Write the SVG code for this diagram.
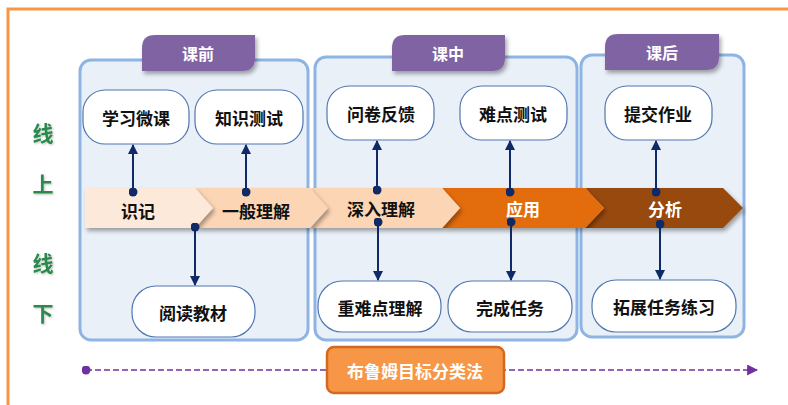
<svg xmlns="http://www.w3.org/2000/svg" width="788" height="405" viewBox="0 0 788 405">
<defs>
<style>
.panel{fill:#EAF0F8;stroke:#8DB4E2;stroke-width:3}
.tab{fill:#8064A2}
.tabt{fill:#fff;font-family:"Noto Sans CJK SC","Noto Sans",sans-serif;font-size:16px;font-weight:bold;text-anchor:middle;dominant-baseline:central}
.node{fill:#fff;stroke:#4F77B0;stroke-width:1.2}
.nt{fill:#111;font-family:"Noto Sans CJK SC","Noto Sans",sans-serif;font-size:17px;font-weight:bold;text-anchor:middle;dominant-baseline:central}
.side{fill:#2A8A4C;font-family:"Noto Sans CJK SC","Noto Sans",sans-serif;font-size:21px;font-weight:bold;text-anchor:middle;dominant-baseline:central}
.ct{font-family:"Noto Sans CJK SC","Noto Sans",sans-serif;font-size:17px;font-weight:bold;text-anchor:middle;dominant-baseline:central}
.con{stroke:#0F2A66;stroke-width:2;fill:none;marker-start:url(#dot);marker-end:url(#arr)}
</style>
<marker id="arr" viewBox="0 0 10 10" refX="9" refY="5" markerWidth="10" markerHeight="10" markerUnits="userSpaceOnUse" orient="auto"><path d="M0,0 L10,5 L0,10 Z" fill="#0F2A66"/></marker>
<marker id="dot" viewBox="0 0 10 10" refX="5" refY="5" markerWidth="9" markerHeight="9" markerUnits="userSpaceOnUse"><circle cx="5" cy="5" r="5" fill="#0F2A66"/></marker>
<marker id="parr" viewBox="0 0 10 10" refX="9" refY="5" markerWidth="11" markerHeight="11" markerUnits="userSpaceOnUse" orient="auto"><path d="M0,0 L10,5 L0,10 Z" fill="#7030A0"/></marker>
<marker id="pdot" viewBox="0 0 10 10" refX="5" refY="5" markerWidth="9" markerHeight="9" markerUnits="userSpaceOnUse"><circle cx="5" cy="5" r="5" fill="#7030A0"/></marker>
<filter id="sh" x="-10%" y="-30%" width="130%" height="180%"><feDropShadow dx="2" dy="3" stdDeviation="2" flood-color="#000" flood-opacity="0.35"/></filter>
<filter id="ts" x="-20%" y="-20%" width="150%" height="150%"><feDropShadow dx="1" dy="1" stdDeviation="0.8" flood-color="#000" flood-opacity="0.25"/></filter>
</defs>
<rect x="8" y="9" width="800" height="420" fill="#fff" stroke="#F79646" stroke-width="3"/>
<g id="side-labels">
<text class="side" x="43" y="132" filter="url(#ts)">线</text>
<text class="side" x="43" y="183" filter="url(#ts)">上</text>
<text class="side" x="43" y="262" filter="url(#ts)">线</text>
<text class="side" x="43" y="312" filter="url(#ts)">下</text>
</g>
<g id="panel-pre">
<rect class="panel" x="80" y="60" width="228" height="280" rx="11"/>
<path class="tab" filter="url(#sh)" d="M142,71 L142,48 Q142,35 155,35 L255,35 L255,58 Q255,71 242,71 Z"/>
<text class="tabt" x="198" y="53">课前</text>
</g>
<g id="panel-in">
<rect class="panel" x="315" y="57" width="262" height="283" rx="11"/>
<path class="tab" filter="url(#sh)" d="M392,71 L392,48 Q392,35 405,35 L505,35 L505,58 Q505,71 492,71 Z"/>
<text class="tabt" x="448" y="53">课中</text>
</g>
<g id="panel-post">
<rect class="panel" x="581" y="55" width="163" height="282" rx="11"/>
<path class="tab" filter="url(#sh)" d="M605,70 L605,47 Q605,34 618,34 L719,34 L719,57 Q719,70 706,70 Z"/>
<text class="tabt" x="662" y="52">课后</text>
</g>
<g id="band">
<path id="c5" filter="url(#sh)" fill="#984807" d="M585,188 L723,188 L743,208 L723,228 L585,228 L604,208 Z"/>
<path id="c4" filter="url(#sh)" fill="#E36C09" d="M442,188 L585,188 L604,208 L585,228 L442,228 L460,208 Z"/>
<path id="c3" filter="url(#sh)" fill="#FCD5B4" d="M310,188 L442,188 L460,208 L442,228 L310,228 L328,208 Z"/>
<path id="c2" filter="url(#sh)" fill="#FCD5B4" d="M195,188 L310,188 L328,208 L310,228 L195,228 L213,208 Z"/>
<path id="c1" filter="url(#sh)" fill="#FDE9D9" d="M85,188 L195,188 L213,208 L195,228 L85,228 Z"/>
<text class="ct" x="138" y="210" fill="#111">识记</text>
<text class="ct" x="256" y="210" fill="#111">一般理解</text>
<text class="ct" x="381" y="208" fill="#111">深入理解</text>
<text class="ct" x="523" y="208" fill="#fff">应用</text>
<text class="ct" x="665" y="208" fill="#fff">分析</text>
</g>
<g id="n-xuexi"><rect class="node" x="83" y="90" width="106" height="54" rx="22"/><text class="nt" x="136" y="117">学习微课</text></g>
<g id="n-zhishi"><rect class="node" x="195" y="90" width="108" height="54" rx="22"/><text class="nt" x="249" y="117">知识测试</text></g>
<g id="n-wenjuan"><rect class="node" x="327" y="86" width="107" height="54" rx="22"/><text class="nt" x="381" y="113">问卷反馈</text></g>
<g id="n-nandian"><rect class="node" x="460" y="86" width="107" height="54" rx="22"/><text class="nt" x="513" y="113">难点测试</text></g>
<g id="n-tijiao"><rect class="node" x="605" y="86" width="107" height="54" rx="22"/><text class="nt" x="658" y="113">提交作业</text></g>
<g id="n-yuedu"><rect class="node" x="132" y="286" width="123" height="51" rx="24"/><text class="nt" x="193" y="312">阅读教材</text></g>
<g id="n-zhongnan"><rect class="node" x="318" y="281" width="123" height="51" rx="24"/><text class="nt" x="380" y="307">重难点理解</text></g>
<g id="n-wancheng"><rect class="node" x="448" y="281" width="124" height="51" rx="24"/><text class="nt" x="510" y="307">完成任务</text></g>
<g id="n-tuozhan"><rect class="node" x="592" y="280" width="144" height="52" rx="24"/><text class="nt" x="664" y="306">拓展任务练习</text></g>
<g id="connectors">
<line class="con" x1="133" y1="192" x2="133" y2="145"/>
<line class="con" x1="246" y1="192" x2="246" y2="145"/>
<line class="con" x1="377" y1="190" x2="377" y2="141"/>
<line class="con" x1="510" y1="192" x2="510" y2="141"/>
<line class="con" x1="656" y1="192" x2="656" y2="141"/>
<line class="con" x1="195" y1="227" x2="195" y2="285"/>
<line class="con" x1="378" y1="222" x2="378" y2="280"/>
<line class="con" x1="511" y1="222" x2="511" y2="280"/>
<line class="con" x1="660" y1="224" x2="660" y2="279"/>
<line x1="86" y1="370" x2="757" y2="370" stroke="#7030A0" stroke-width="1.6" stroke-dasharray="6 3" marker-start="url(#pdot)" marker-end="url(#parr)"/>
</g>
<g id="n-bloom">
<rect x="327" y="347" width="177" height="46" rx="7" fill="#F79646" stroke="#D2691E" stroke-width="2.5"/>
<text class="ct" x="415" y="370" fill="#fff">布鲁姆目标分类法</text>
</g>
</svg>
